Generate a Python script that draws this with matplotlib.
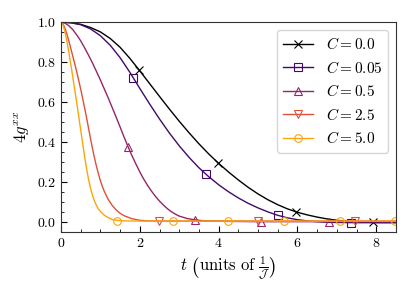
import matplotlib
matplotlib.use("Agg")
import matplotlib.pyplot as plt
from matplotlib.ticker import MultipleLocator
from matplotlib.lines import Line2D

plt.rcParams['font.family'] = 'serif'
plt.rcParams['font.serif'] = ['cmr10']
plt.rcParams['mathtext.fontset'] = 'cm'
plt.rcParams['axes.formatter.use_mathtext'] = True
plt.rcParams['font.size'] = 10

# C = 0.0
t_c0 = [0, 0.25, 0.5, 0.75, 1.0, 1.25, 1.5, 1.75, 2.0, 2.25, 2.5, 2.75, 3.0, 3.25, 3.5,
        3.75, 4.0, 4.25, 4.5, 4.75, 5.0, 5.25, 5.5, 5.75, 6.0, 6.25, 6.5, 6.75, 7.0,
        7.25, 7.5, 7.75, 8.0, 8.25, 8.5]
y_c0 = [1.0, 0.997, 0.989, 0.973, 0.951, 0.918, 0.874, 0.818, 0.756, 0.692, 0.628,
        0.565, 0.504, 0.446, 0.391, 0.340, 0.293, 0.250, 0.210, 0.173, 0.140, 0.111,
        0.086, 0.065, 0.048, 0.035, 0.024, 0.015, 0.008, 0.003, 0.0, -0.002, -0.003,
        -0.003, -0.003]
mt_c0 = [1.99, 3.98, 5.97, 7.92]
my_c0 = [0.758, 0.294, 0.050, -0.003]

# C = 0.05
t_c1 = [0, 0.25, 0.5, 0.75, 1.0, 1.25, 1.5, 1.75, 2.0, 2.25, 2.5, 2.75, 3.0, 3.25, 3.5,
        3.75, 4.0, 4.25, 4.5, 4.75, 5.0, 5.25, 5.5, 5.75, 6.0, 6.25, 6.5, 6.75, 7.0,
        7.5, 8.0, 8.5]
y_c1 = [1.0, 0.997, 0.987, 0.966, 0.932, 0.884, 0.822, 0.748, 0.668, 0.590, 0.515,
        0.445, 0.381, 0.323, 0.271, 0.226, 0.186, 0.151, 0.120, 0.093, 0.070, 0.050,
        0.033, 0.020, 0.011, 0.005, 0.001, -0.002, -0.003, -0.004, -0.004, -0.004]
mt_c1 = [1.83, 3.68, 5.52, 7.37]
my_c1 = [0.722, 0.239, 0.032, -0.004]

# C = 0.5
t_c2 = [0, 0.1, 0.2, 0.3, 0.4, 0.5, 0.6, 0.7, 0.8, 0.9, 1.0, 1.1, 1.2, 1.3, 1.4, 1.5,
        1.6, 1.7, 1.8, 1.9, 2.0, 2.1, 2.2, 2.3, 2.4, 2.5, 2.6, 2.7, 2.8, 2.9, 3.0, 3.2,
        3.4, 3.6, 4.0, 4.5, 5.0, 6.0, 7.0, 8.5]
y_c2 = [1.0, 0.995, 0.982, 0.962, 0.936, 0.906, 0.871, 0.834, 0.795, 0.753, 0.710,
        0.665, 0.620, 0.572, 0.524, 0.475, 0.425, 0.377, 0.332, 0.290, 0.250, 0.214,
        0.182, 0.153, 0.127, 0.104, 0.084, 0.066, 0.051, 0.039, 0.029, 0.017, 0.010,
        0.006, 0.003, 0.002, 0.001, 0.001, 0.001, 0.001]
mt_c2 = [1.70, 3.39, 5.08, 6.80]
my_c2 = [0.377, 0.011, 0.001, 0.001]

# C = 2.5
t_c3 = [0, 0.05, 0.1, 0.15, 0.2, 0.25, 0.3, 0.35, 0.4, 0.45, 0.5, 0.55, 0.6, 0.65, 0.7,
        0.75, 0.8, 0.85, 0.9, 0.95, 1.0, 1.05, 1.1, 1.2, 1.3, 1.4, 1.5, 1.6, 1.8, 2.0,
        2.2, 2.5, 3.0, 4.0, 6.0, 8.5]
y_c3 = [1.0, 0.992, 0.970, 0.940, 0.905, 0.867, 0.829, 0.790, 0.750, 0.708, 0.664,
        0.618, 0.570, 0.520, 0.468, 0.416, 0.366, 0.320, 0.278, 0.240, 0.206, 0.177,
        0.152, 0.112, 0.082, 0.060, 0.043, 0.031, 0.016, 0.008, 0.005, 0.004, 0.004,
        0.004, 0.004, 0.004]
mt_c3 = [2.49, 4.99, 7.45]
my_c3 = [0.004, 0.004, 0.004]

# C = 5.0
t_c4 = [0, 0.05, 0.1, 0.15, 0.2, 0.25, 0.3, 0.35, 0.4, 0.45, 0.5, 0.55, 0.6, 0.65, 0.7,
        0.75, 0.8, 0.85, 0.9, 0.95, 1.0, 1.1, 1.2, 1.3, 1.4, 1.6, 2.0, 3.0, 5.0, 8.5]
y_c4 = [1.0, 0.986, 0.952, 0.905, 0.848, 0.787, 0.724, 0.660, 0.595, 0.528, 0.460,
        0.392, 0.326, 0.265, 0.212, 0.168, 0.132, 0.104, 0.082, 0.065, 0.052, 0.033,
        0.021, 0.012, 0.008, 0.005, 0.004, 0.004, 0.004, 0.004]
mt_c4 = [1.41, 2.83, 4.25, 5.67, 7.08, 8.48]
my_c4 = [0.006, 0.004, 0.004, 0.004, 0.004, 0.004]

series = [
    (t_c0, y_c0, mt_c0, my_c0, '#000000', 'x', r'$C = 0.0$'),
    (t_c1, y_c1, mt_c1, my_c1, '#420a68', 's', r'$C = 0.05$'),
    (t_c2, y_c2, mt_c2, my_c2, '#932667', '^', r'$C = 0.5$'),
    (t_c3, y_c3, mt_c3, my_c3, '#dd513a', 'v', r'$C = 2.5$'),
    (t_c4, y_c4, mt_c4, my_c4, '#fca50a', 'o', r'$C = 5.0$'),
]

fig = plt.figure(figsize=(4.15, 2.95), dpi=100)
ax = fig.add_axes([0.147, 0.214, 0.807, 0.711])

handles = []
for t, y, mt, my, col, mk, lab in series:
    ax.plot(t, y, color=col, lw=1.0)
    ax.plot(mt, my, linestyle='none', marker=mk, markersize=5.5,
            markerfacecolor='none', markeredgecolor=col, markeredgewidth=0.8)
    handles.append(Line2D([], [], color=col, lw=1.0, marker=mk, markersize=5.5,
                          markerfacecolor='none', markeredgecolor=col,
                          markeredgewidth=0.8, label=lab))

ax.set_xlim(0, 8.5)
ax.set_ylim(-0.05, 1.0)
ax.xaxis.set_major_locator(MultipleLocator(2))
ax.xaxis.set_minor_locator(MultipleLocator(0.5))
ax.yaxis.set_major_locator(MultipleLocator(0.2))
ax.yaxis.set_minor_locator(MultipleLocator(0.05))
ax.tick_params(which='both', direction='in', top=False, right=False)
ax.tick_params(which='major', length=4)
ax.tick_params(which='minor', length=2)
for s in ax.spines.values():
    s.set_color('#333333')

ax.set_xlabel(r'$t\ \left(\mathrm{units\ of\ }\frac{1}{\mathcal{J}}\right)$', fontsize=12)
ax.set_ylabel(r'$4g^{xx}$', fontsize=12)
ax.legend(handles=handles, loc='upper right', fontsize=11, handlelength=2.0)

fig.savefig('out.png', dpi=100)
